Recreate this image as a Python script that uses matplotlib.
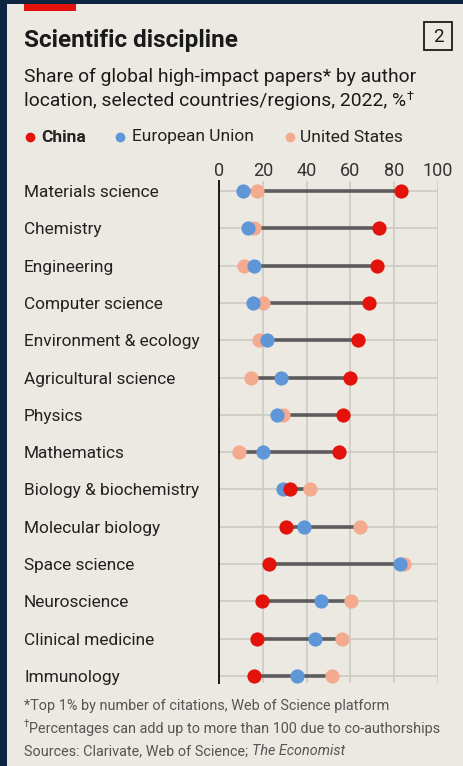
import matplotlib.pyplot as plt
from matplotlib.patches import Rectangle

# dados
disciplinas = ["Materials science", "Chemistry", "Engineering", "Computer science",
               "Environment & ecology", "Agricultural science", "Physics", "Mathematics",
               "Biology & biochemistry", "Molecular biology", "Space science",
               "Neuroscience", "Clinical medicine", "Immunology"]
china = [82.9, 73.0, 72.3, 68.6, 63.4, 59.8, 56.4, 54.6, 32.5, 30.6, 23.0, 19.5, 17.5, 16.2]
eu = [10.8, 13.4, 16.0, 15.7, 22.1, 28.5, 26.7, 20.0, 29.1, 38.9, 82.5, 46.5, 43.9, 35.8]
us = [17.2, 16.2, 11.6, 20.3, 18.3, 14.5, 29.1, 9.0, 41.6, 64.5, 84.6, 60.4, 56.1, 51.7]
ticks = [0, 20, 40, 60, 80, 100]

W, H = 464, 766
VERMELHO = "#e3120b"
AZUL = "#5f96d8"
ROSA = "#f4aa8f"
FUNDO = "#ebe9e1"

plt.rcParams['font.family'] = ['Roboto', 'DejaVu Sans']

fig = plt.figure(figsize=(W / 100, H / 100), dpi=100)
fig.patch.set_facecolor("#0e2542")


def fx(px):
    return px / W


def fy(py):
    return 1 - py / H


# painel claro
fig.patches.append(Rectangle((fx(7), 0), 1 - fx(7), fy(4), transform=fig.transFigure,
                             facecolor=FUNDO, edgecolor="none", zorder=-5))
fig.patches.append(Rectangle((fx(24), fy(11)), fx(52), fy(4) - fy(11), transform=fig.transFigure,
                             facecolor=VERMELHO, edgecolor="none", zorder=-4))

fig.text(fx(24), fy(40), "Scientific discipline", fontsize=17.5, fontweight="bold",
         color="#1a1a1a", va="center")
# caixa com o número
fig.patches.append(Rectangle((fx(424), fy(50)), fx(28), fy(22) - fy(50), transform=fig.transFigure,
                             facecolor="none", edgecolor="#1a1a1a", lw=1.3, zorder=-3))
fig.text(fx(438), fy(36.5), "2", fontsize=13.5, color="#1a1a1a", ha="center", va="center")
fig.text(fx(24), fy(77), "Share of global high-impact papers* by author", fontsize=13.9,
         color="#1a1a1a", va="center")
t = fig.text(fx(24), fy(101), "location, selected countries/regions, 2022, %", fontsize=13.9,
             color="#1a1a1a", va="center")
fig.canvas.draw()
bb = t.get_window_extent()
fig.text(bb.x1 / W + 0.002, fy(96), "†", fontsize=9, color="#1a1a1a", va="center")

# legenda
for x_dot, x_txt, cor, nome, peso in [(30, 41, VERMELHO, "China", "bold"),
                                       (120, 132, AZUL, "European Union", "normal"),
                                       (290, 300, ROSA, "United States", "normal")]:
    fig.lines.append(plt.Line2D([fx(x_dot)], [fy(137)], marker="o", markersize=7,
                                color=cor, markeredgewidth=0, transform=fig.transFigure))
    fig.text(fx(x_txt), fy(137), nome, fontsize=12.5, fontweight=peso, color="#222222",
             va="center")

ax = fig.add_axes([fx(219), fy(683), fx(438) - fx(219), fy(181) - fy(683)])
ax.set_facecolor("none")
ax.set_xlim(0, 100)
ax.set_ylim(13.19, -0.27)
y = list(range(len(disciplinas)))

for v in ticks[1:]:
    ax.axvline(v, color="#cbcac4", lw=1.2, zorder=0)
ax.hlines(y, 0, 100, color="#cbcac4", lw=1.2, zorder=0)

mins = [min(a, b, c) for a, b, c in zip(china, eu, us)]
maxs = [max(a, b, c) for a, b, c in zip(china, eu, us)]
ax.hlines(y, mins, maxs, color="#5b5b5b", lw=2.6, zorder=2)

ax.scatter(us, y, s=105, color=ROSA, zorder=3, linewidths=0)
ax.scatter(eu, y, s=105, color=AZUL, zorder=4, linewidths=0)
ax.scatter(china, y, s=105, color=VERMELHO, zorder=5, linewidths=0)

for s in ["top", "right", "bottom"]:
    ax.spines[s].set_visible(False)
ax.spines["left"].set_color("#1a1a1a")
ax.spines["left"].set_linewidth(1.4)
ax.xaxis.tick_top()
ax.set_xticks(ticks)
ax.tick_params(axis="x", length=0, pad=1, labelsize=13, labelcolor="#333333")
ax.set_yticks([])

for i, nome in enumerate(disciplinas):
    ax.text((24 - 219) / 219, i, nome, transform=ax.get_yaxis_transform(), fontsize=12.4,
            color="#222222", va="center_baseline", ha="left")

fig.text(fx(24), fy(706), "*Top 1% by number of citations, Web of Science platform",
         fontsize=10.4, color="#555555", va="center")
fig.text(fx(24), fy(724), "†", fontsize=7, color="#555555", va="center")
fig.text(fx(29), fy(729), "Percentages can add up to more than 100 due to co-authorships",
         fontsize=10.4, color="#555555", va="center")
t = fig.text(fx(24), fy(751), "Sources: Clarivate, Web of Science; ", fontsize=10.4,
             color="#555555", va="center")
fig.canvas.draw()
bb = t.get_window_extent()
fig.text(bb.x1 / W, fy(751), "The Economist", fontsize=10.4, fontstyle="italic",
         color="#555555", va="center")

fig.savefig("out.png", dpi=100, facecolor=fig.get_facecolor())
